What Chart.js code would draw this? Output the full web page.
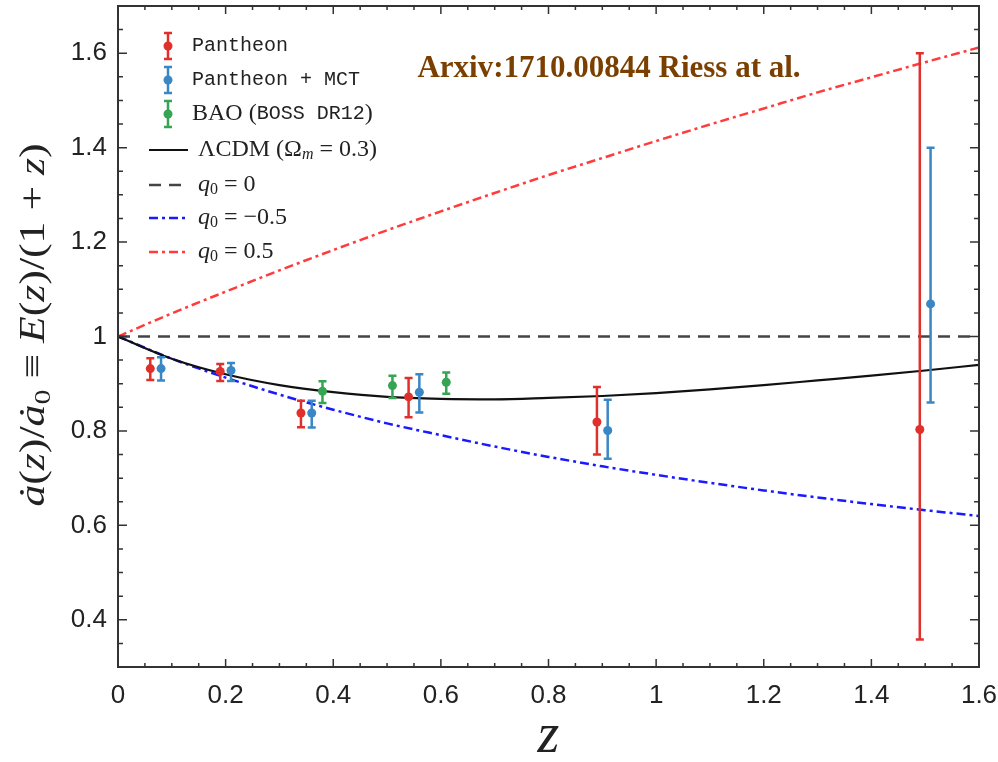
<!DOCTYPE html>
<html>
<head>
<meta charset="utf-8">
<script src="https://cdn.jsdelivr.net/npm/chart.js@4.4.0/dist/chart.umd.min.js"></script>
<style>
  html, body { margin: 0; padding: 0; background: #fff; }
  #wrap { width: 998px; height: 762px; position: relative; }
</style>
</head>
<body>
<div id="wrap"><canvas id="chart"></canvas></div>
<script>
// model curves at z = 0 ... 1.6
const zGrid    = [0, 0.1, 0.2, 0.3, 0.4, 0.5, 0.6, 0.7, 0.8, 0.9, 1.0, 1.1, 1.2, 1.3, 1.4, 1.5, 1.6];
const lcdmY    = [1, 0.953, 0.920, 0.897, 0.882, 0.872, 0.868, 0.867, 0.870, 0.874, 0.880, 0.888, 0.897, 0.907, 0.917, 0.928, 0.940];
const q0ZeroY  = [1, 1, 1, 1, 1, 1, 1, 1, 1, 1, 1, 1, 1, 1, 1, 1, 1];
const q0NegY   = [1, 0.953, 0.913, 0.877, 0.845, 0.816, 0.791, 0.767, 0.745, 0.725, 0.707, 0.690, 0.674, 0.659, 0.645, 0.632, 0.620];
const q0PosY   = [1, 1.049, 1.095, 1.140, 1.183, 1.225, 1.265, 1.304, 1.342, 1.378, 1.414, 1.449, 1.483, 1.517, 1.549, 1.581, 1.612];

// data points with error bars
const pantheonZ  = [0.06, 0.19, 0.34, 0.54, 0.89, 1.49];
const pantheonY  = [0.932, 0.926, 0.838, 0.872, 0.819, 0.803];
const pantheonLo = [0.908, 0.906, 0.808, 0.829, 0.750, 0.358];
const pantheonHi = [0.954, 0.942, 0.864, 0.912, 0.893, 1.600];

const mctZ  = [0.08, 0.21, 0.36, 0.56, 0.91, 1.51];
const mctY  = [0.932, 0.928, 0.838, 0.882, 0.801, 1.069];
const mctLo = [0.907, 0.906, 0.807, 0.839, 0.741, 0.860];
const mctHi = [0.956, 0.944, 0.864, 0.920, 0.866, 1.400];

const baoZ  = [0.38, 0.51, 0.61];
const baoY  = [0.884, 0.896, 0.903];
const baoLo = [0.859, 0.870, 0.879];
const baoHi = [0.905, 0.917, 0.924];

const xTicks = [0, 0.2, 0.4, 0.6, 0.8, 1.0, 1.2, 1.4, 1.6];
const yTicks = [0.4, 0.6, 0.8, 1.0, 1.2, 1.4, 1.6];

const RED = '#e0302c', BLUE = '#3a87c6', GREEN = '#35a553';
const TICK_FONT = '"Liberation Sans Narrow", "Liberation Sans", Arial, sans-serif';
const SERIF = '"Liberation Serif", "DejaVu Serif", serif';
const MONO = '"Liberation Mono", "DejaVu Sans Mono", monospace';

const pts = (xs, ys) => xs.map((x, i) => ({ x: x, y: ys[i] }));

function curve(label, ys, color, width, dash) {
    return {
        label: label, type: 'line', data: pts(zGrid, ys),
        borderColor: color, borderWidth: width, borderDash: dash,
        pointRadius: 0, fill: false, cubicInterpolationMode: 'monotone', order: 2
    };
}

function points(label, xs, ys, lo, hi, color) {
    return {
        label: label, type: 'scatter', data: pts(xs, ys),
        errLo: lo, errHi: hi,
        backgroundColor: color, borderColor: color,
        pointRadius: 4.5, pointBorderWidth: 0, order: 1
    };
}

// draw rich text made of [text, font, dy] pieces
function drawRich(ctx, parts, x, y, align) {
    let w = 0;
    parts.forEach(p => { ctx.font = p[1]; w += ctx.measureText(p[0]).width; });
    let cx = align === 'center' ? x - w / 2 : x;
    parts.forEach(p => {
        ctx.font = p[1];
        ctx.fillText(p[0], cx, y + (p[2] || 0));
        cx += ctx.measureText(p[0]).width;
    });
}

function errIcon(ctx, x, y, color) {
    ctx.save();
    ctx.strokeStyle = color; ctx.fillStyle = color; ctx.lineWidth = 2.5;
    ctx.beginPath();
    ctx.moveTo(x, y - 13); ctx.lineTo(x, y + 13);
    ctx.moveTo(x - 4, y - 13); ctx.lineTo(x + 4, y - 13);
    ctx.moveTo(x - 4, y + 13); ctx.lineTo(x + 4, y + 13);
    ctx.stroke();
    ctx.beginPath(); ctx.arc(x, y, 4.5, 0, Math.PI * 2); ctx.fill();
    ctx.restore();
}

function lineIcon(ctx, y, color, width, dash) {
    ctx.save();
    ctx.strokeStyle = color; ctx.lineWidth = width; ctx.setLineDash(dash);
    ctx.beginPath(); ctx.moveTo(149, y); ctx.lineTo(188, y); ctx.stroke();
    ctx.restore();
}

const errorBars = {
    id: 'errorBars',
    afterDatasetsDraw(chart) {
        const { ctx, scales: { x, y } } = chart;
        chart.data.datasets.forEach(ds => {
            if (!ds.errLo) return;
            ctx.save();
            ctx.strokeStyle = ds.borderColor;
            ctx.lineWidth = 2.5;
            ds.data.forEach((p, j) => {
                const px = x.getPixelForValue(p.x);
                const top = y.getPixelForValue(ds.errHi[j]);
                const bot = y.getPixelForValue(ds.errLo[j]);
                ctx.beginPath();
                ctx.moveTo(px, top); ctx.lineTo(px, bot);
                ctx.moveTo(px - 4, top); ctx.lineTo(px + 4, top);
                ctx.moveTo(px - 4, bot); ctx.lineTo(px + 4, bot);
                ctx.stroke();
            });
            ctx.restore();
        });
    }
};

const decorations = {
    id: 'decorations',
    afterDraw(chart) {
        const { ctx, chartArea: a, scales: { x, y } } = chart;
        ctx.save();

        // frame and inward ticks
        ctx.strokeStyle = '#333';
        ctx.lineWidth = 2;
        ctx.strokeRect(a.left, a.top, a.right - a.left, a.bottom - a.top);
        ctx.lineWidth = 1.5;
        ctx.beginPath();
        for (let i = 0; i <= 32; i++) {
            const v = i * 0.05, px = x.getPixelForValue(v);
            const len = i % 4 === 0 ? 8 : 4;
            ctx.moveTo(px, a.bottom); ctx.lineTo(px, a.bottom - len);
            ctx.moveTo(px, a.top); ctx.lineTo(px, a.top + len);
        }
        for (let i = 6; i <= 34; i++) {
            const v = i * 0.05, py = y.getPixelForValue(v);
            const len = (i - 8) % 4 === 0 ? 9 : 5;
            ctx.moveTo(a.left, py); ctx.lineTo(a.left + len, py);
            ctx.moveTo(a.right, py); ctx.lineTo(a.right - len, py);
        }
        ctx.stroke();

        // legend
        ctx.fillStyle = '#222';
        ctx.textBaseline = 'middle';
        errIcon(ctx, 168, 46, RED);
        errIcon(ctx, 168, 80, BLUE);
        errIcon(ctx, 168, 114, GREEN);
        ctx.font = '20px ' + MONO;
        ctx.fillText('Pantheon', 192, 46);
        ctx.fillText('Pantheon + MCT', 192, 80);
        drawRich(ctx, [['BAO (', '24px ' + SERIF, 0], ['BOSS DR12', '20px ' + MONO, 0], [')', '24px ' + SERIF, 0]], 192, 114);

        lineIcon(ctx, 150, '#111', 2.2, []);
        lineIcon(ctx, 185, '#444', 2.5, [12, 8]);
        lineIcon(ctx, 218, '#1a1aff', 2.5, [9, 4, 3, 4]);
        lineIcon(ctx, 252, '#ff3b3b', 2.5, [9, 4, 3, 4]);
        const r22 = '24px ' + SERIF, i22 = 'italic 24px ' + SERIF, r15 = '16px ' + SERIF, i15 = 'italic 16px ' + SERIF;
        drawRich(ctx, [['\u039BCDM (\u03A9', r22, 0], ['m', i15, 5], [' = 0.3)', r22, 0]], 198, 150);
        drawRich(ctx, [['q', i22, 0], ['0', r15, 5], [' = 0', r22, 0]], 198, 185);
        drawRich(ctx, [['q', i22, 0], ['0', r15, 5], [' = \u22120.5', r22, 0]], 198, 218);
        drawRich(ctx, [['q', i22, 0], ['0', r15, 5], [' = 0.5', r22, 0]], 198, 252);

        // annotation
        ctx.fillStyle = '#7b3f00';
        ctx.textAlign = 'center';
        ctx.textBaseline = 'alphabetic';
        ctx.font = 'bold 31px ' + SERIF;
        ctx.fillText('Arxiv:1710.00844 Riess at al.', 609, 77);
        ctx.textAlign = 'left';

        // axis titles
        ctx.fillStyle = '#222';
        ctx.font = 'italic 56px ' + SERIF;
        ctx.textAlign = 'center';
        ctx.fillText('z', (a.left + a.right) / 2, 752);
        ctx.textAlign = 'left';

        ctx.translate(44, 325);
        ctx.rotate(-Math.PI / 2);
        ctx.scale(1.25, 1);
        const R = '35px ' + SERIF, I = 'italic 35px ' + SERIF, S = '24px ' + SERIF;
        drawRich(ctx, [
            ['\u0227', I, 0], ['(', R, 0], ['z', I, 0], [')/', R, 0], ['\u0227', I, 0], ['0', S, 6],
            [' \u2261 ', R, 0], ['E', I, 0], ['(', R, 0], ['z', I, 0], [')/(1 + ', R, 0], ['z', I, 0], [')', R, 0]
        ], 0, 0, 'center');
        ctx.restore();
    }
};

new Chart(document.getElementById('chart'), {
    type: 'scatter',
    data: {
        datasets: [
            points('Pantheon', pantheonZ, pantheonY, pantheonLo, pantheonHi, RED),
            points('Pantheon + MCT', mctZ, mctY, mctLo, mctHi, BLUE),
            points('BAO (BOSS DR12)', baoZ, baoY, baoLo, baoHi, GREEN),
            curve('\u039BCDM', lcdmY, '#111', 2.2, []),
            curve('q0 = 0', q0ZeroY, '#444', 2.5, [12, 8]),
            curve('q0 = -0.5', q0NegY, '#1a1aff', 2.5, [9, 4, 3, 4]),
            curve('q0 = 0.5', q0PosY, '#ff3b3b', 2.5, [9, 4, 3, 4])
        ]
    },
    options: {
        responsive: true,
        maintainAspectRatio: false,
        animation: false,
        layout: { padding: { left: 0, right: 19, top: 6, bottom: 0 } },
        scales: {
            x: {
                type: 'linear', min: 0, max: 1.6,
                grid: { display: false, drawTicks: false },
                border: { display: false },
                ticks: {
                    color: '#222', padding: 13,
                    font: { family: TICK_FONT, size: 26 },
                    callback: v => String(+v.toFixed(1))
                },
                afterBuildTicks: s => { s.ticks = xTicks.map(v => ({ value: v })); },
                afterFit: s => { s.height = 95; s.paddingLeft = 0; s.paddingRight = 0; }
            },
            y: {
                type: 'linear', min: 0.3, max: 1.7,
                grid: { display: false, drawTicks: false },
                border: { display: false },
                ticks: {
                    color: '#222', padding: 11,
                    font: { family: TICK_FONT, size: 26 },
                    callback: v => String(+v.toFixed(1))
                },
                afterBuildTicks: s => { s.ticks = yTicks.map(v => ({ value: v })); },
                afterFit: s => { s.width = 118; s.paddingTop = 0; s.paddingBottom = 0; }
            }
        },
        plugins: {
            legend: { display: false },
            tooltip: { enabled: false }
        }
    },
    plugins: [errorBars, decorations]
});
</script>
</body>
</html>
